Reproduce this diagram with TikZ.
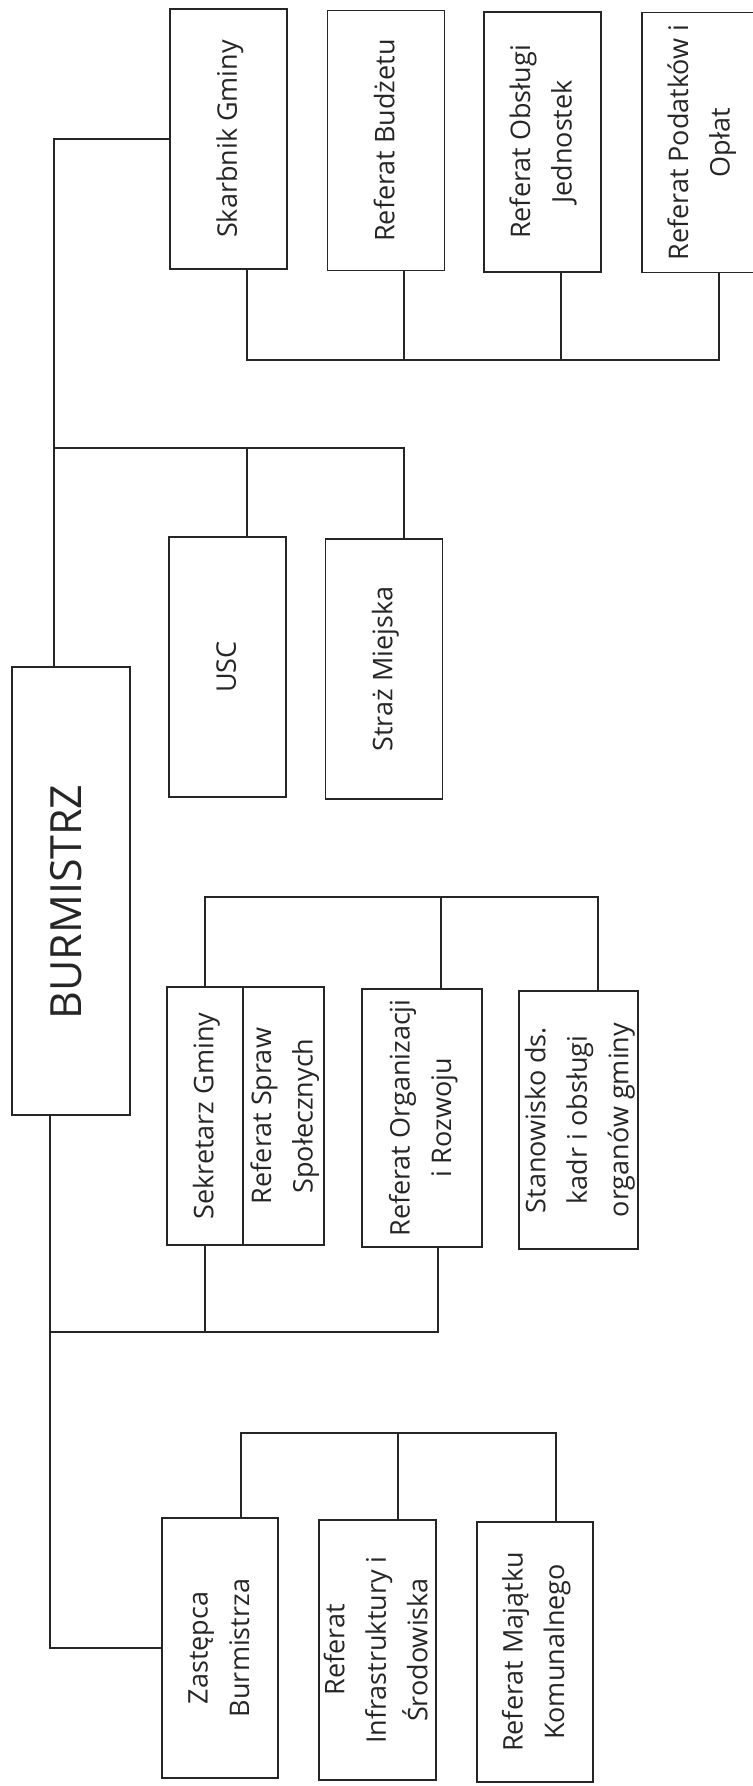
\documentclass[tikz,border=0pt]{standalone}
\usepackage{fontspec}
\setmainfont{Open Sans}
\usepackage{graphicx}
\definecolor{ink}{HTML}{262626}
\newcommand{\vtext}[1]{\makebox[0pt]{\rotatebox{90}{\begin{tabular}{@{}c@{}}#1\end{tabular}}}}
\begin{document}
\begin{tikzpicture}[x=0.5pt,y=-0.5pt,
  box/.style={draw=ink, line width=0.9pt, minimum width=58.5pt, minimum height=130pt,
    inner sep=0pt, text=ink, font=\fontsize{13.5}{20.75}\selectfont},
  conn/.style={draw=ink, line width=0.9pt}]
\useasboundingbox (0,0) rectangle (753,1786);
\fill[white] (0,0) rectangle (753,1786);

% top group
\node[box] (skar) at (228.5,139) {\vtext{Skarbnik Gminy}};
\node[box] (budz) at (386,140.5) {\vtext{Referat Budżetu}};
\node[box] (obsl) at (542.5,142) {\vtext{Referat Obsługi\\Jednostek}};
\node[box] (podat) at (700.5,142.5) {\vtext{Referat Podatków i\\Opłat}};
% USC group
\node[box] (usc) at (227.5,667) {\vtext{USC}};
\node[box] (straz) at (384,669) {\vtext{Straż Miejska}};
% Burmistrz
\node[box, minimum width=59pt, minimum height=224pt, font=\fontsize{21.5}{26}\selectfont] (burm) at (71,891) {\vtext{BURMISTRZ\hspace*{11pt}}};
% Sekretarz group
\node[box, minimum width=38pt, minimum height=129pt] (sekA) at (205,1116) {\vtext{Sekretarz Gminy}};
\node[box, minimum width=40.5pt, minimum height=129pt] (sekB) at (283.5,1116) {\vtext{Referat Spraw\\Społecznych}};
\node[box, minimum width=60pt, minimum height=129pt] (org) at (422,1118) {\vtext{Referat Organizacji\\i Rozwoju}};
\node[box, minimum width=59.5pt, minimum height=129pt] (stan) at (578.5,1120) {\vtext{Stanowisko ds.\\kadr i obsługi\\organów gminy}};
% bottom group
\node[box, minimum width=58pt] (zast) at (220,1648) {\vtext{Zastępca\\Burmistrza}};
\node[box] (infra) at (377.5,1650) {\vtext{Referat\\Infrastruktury i\\Środowiska}};
\node[box, minimum width=58pt] (maj) at (535,1652) {\vtext{Referat Majątku\\Komunalnego}};

% helper levels
\coordinate (sb) at (0,360);
\coordinate (ub) at (0,448);
\coordinate (tb) at (0,897);
\coordinate (lb) at (0,1332);
\coordinate (gb) at (0,1433);

% drop points
\coordinate (dS) at ([xshift=9.25pt]skar.south);
\coordinate (dB) at ([xshift=9pt]budz.south);
\coordinate (dO) at ([xshift=9.25pt]obsl.south);
\coordinate (dP) at ([xshift=9.25pt]podat.south);
\coordinate (dU) at ([xshift=9.75pt]usc.north);
\coordinate (dT) at ([xshift=10pt]straz.north);
\coordinate (dOrgT) at ([xshift=9.5pt]org.north);
\coordinate (dStan) at ([xshift=9.75pt]stan.north);
\coordinate (dOrgB) at ([xshift=8pt]org.south);
\coordinate (dZ) at ([xshift=10.5pt]zast.north);
\coordinate (dI) at ([xshift=10.25pt]infra.north);
\coordinate (dM) at ([xshift=10.5pt]maj.north);
\coordinate (mtop) at ([xshift=-8.5pt]burm.north);
\coordinate (mbot) at ([xshift=-10.5pt]burm.south);

% main line up
\draw[conn] (mtop) |- (skar.west);
\draw[conn] (mtop |- ub) -| (dT);
\draw[conn] (dU) -- (dU |- ub);
% skarbnik bus
\draw[conn] (dS) -- (dS |- sb) -| (dP);
\draw[conn] (dB) -- (dB |- sb);
\draw[conn] (dO) -- (dO |- sb);
% main line down
\draw[conn] (mbot) |- (zast.west);
\draw[conn] (mbot |- lb) -| (dOrgB);
\draw[conn] (sekA.south) -- (sekA.south |- lb);
% sekretarz top bus
\draw[conn] (sekA.north) -- (sekA.north |- tb) -| (dStan);
\draw[conn] (dOrgT) -- (dOrgT |- tb);
% bottom group bus
\draw[conn] (dZ) -- (dZ |- gb) -| (dM);
\draw[conn] (dI) -- (dI |- gb);
\end{tikzpicture}
\end{document}
